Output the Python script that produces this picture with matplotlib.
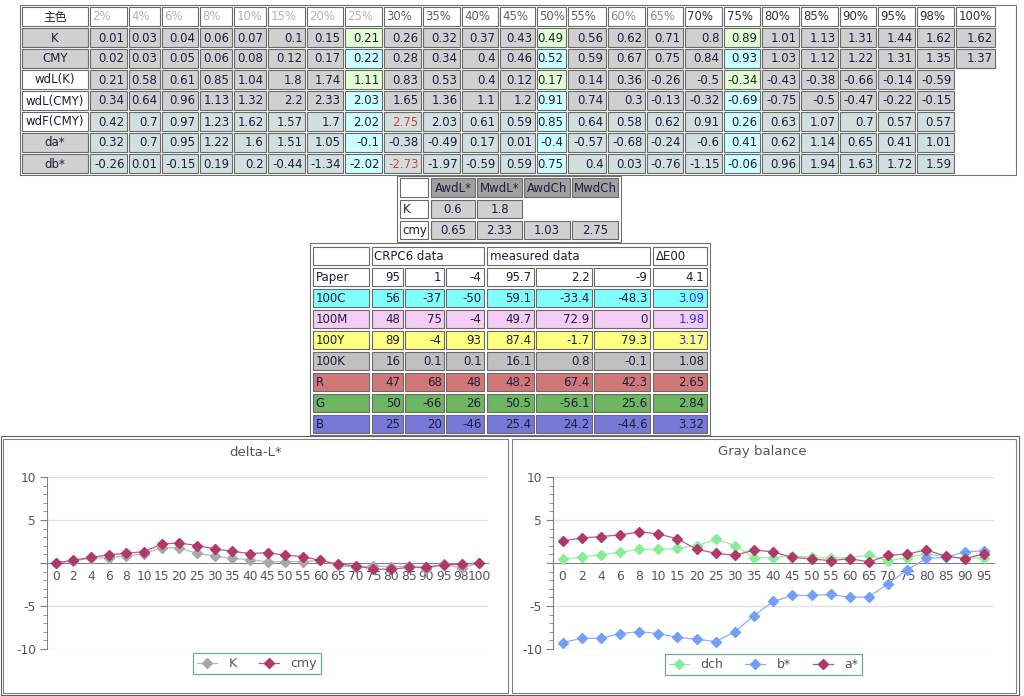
import numpy as np
import matplotlib
matplotlib.use("Agg")
import matplotlib.pyplot as plt
from matplotlib.patches import Rectangle
from matplotlib.lines import Line2D
from matplotlib.ticker import MultipleLocator

plt.rcParams['font.family'] = ['DejaVu Sans', 'Noto Sans CJK SC']

# ---------------------------------------------------------------------------
# DATA
# ---------------------------------------------------------------------------
pct_labels = ['2%', '4%', '6%', '8%', '10%', '15%', '20%', '25%', '30%', '35%', '40%', '45%',
              '50%', '55%', '60%', '65%', '70%', '75%', '80%', '85%', '90%', '95%', '98%', '100%']
row_names = ['K', 'CMY', 'wdL(K)', 'wdL(CMY)', 'wdF(CMY)', 'da*', 'db*']

k_vals = [0.01, 0.03, 0.04, 0.06, 0.07, 0.1, 0.15, 0.21, 0.26, 0.32, 0.37, 0.43,
          0.49, 0.56, 0.62, 0.71, 0.8, 0.89, 1.01, 1.13, 1.31, 1.44, 1.62, 1.62]
cmy_vals = [0.02, 0.03, 0.05, 0.06, 0.08, 0.12, 0.17, 0.22, 0.28, 0.34, 0.4, 0.46,
            0.52, 0.59, 0.67, 0.75, 0.84, 0.93, 1.03, 1.12, 1.22, 1.31, 1.35, 1.37]
wdl_k = [0.21, 0.58, 0.61, 0.85, 1.04, 1.8, 1.74, 1.11, 0.83, 0.53, 0.4, 0.12,
         0.17, 0.14, 0.36, -0.26, -0.5, -0.34, -0.43, -0.38, -0.66, -0.14, -0.59]
wdl_cmy = [0.34, 0.64, 0.96, 1.13, 1.32, 2.2, 2.33, 2.03, 1.65, 1.36, 1.1, 1.2,
           0.91, 0.74, 0.3, -0.13, -0.32, -0.69, -0.75, -0.5, -0.47, -0.22, -0.15]
wdf_cmy = [0.42, 0.7, 0.97, 1.23, 1.62, 1.57, 1.7, 2.02, 2.75, 2.03, 0.61, 0.59,
           0.85, 0.64, 0.58, 0.62, 0.91, 0.26, 0.63, 1.07, 0.7, 0.57, 0.57]
da_vals = [0.32, 0.7, 0.95, 1.22, 1.6, 1.51, 1.05, -0.1, -0.38, -0.49, 0.17, 0.01,
           -0.4, -0.57, -0.68, -0.24, -0.6, 0.41, 0.62, 1.14, 0.65, 0.41, 1.01]
db_vals = [-0.26, 0.01, -0.15, 0.19, 0.2, -0.44, -1.34, -2.02, -2.73, -1.97, -0.59, 0.59,
           0.75, 0.4, 0.03, -0.76, -1.15, -0.06, 0.96, 1.94, 1.63, 1.72, 1.59]

sum_cols = ['AwdL*', 'MwdL*', 'AwdCh', 'MwdCh']
sum_rows = ['K', 'cmy']
k_summary = [0.6, 1.8]
cmy_summary = [0.65, 2.33, 1.03, 2.75]

patch_names = ['Paper', '100C', '100M', '100Y', '100K', 'R', 'G', 'B']
crpc6_L = [95, 56, 48, 89, 16, 47, 50, 25]
crpc6_a = [1, -37, 75, -4, 0.1, 68, -66, 20]
crpc6_b = [-4, -50, -4, 93, 0.1, 48, 26, -46]
meas_L = [95.7, 59.1, 49.7, 87.4, 16.1, 48.2, 50.5, 25.4]
meas_a = [2.2, -33.4, 72.9, -1.7, 0.8, 67.4, -56.1, 24.2]
meas_b = [-9, -48.3, 0, 79.3, -0.1, 42.3, 25.6, -44.6]
delta_e = [4.1, 3.09, 1.98, 3.17, 1.08, 2.65, 2.84, 3.32]

dl_ticks = ['0', '2', '4', '6', '8', '10', '15', '20', '25', '30', '35', '40', '45',
            '50', '55', '60', '65', '70', '75', '80', '85', '90', '95', '98', '100']
dl_k = [0, 0.21, 0.58, 0.61, 0.85, 1.04, 1.8, 1.74, 1.11, 0.83, 0.53, 0.4, 0.12,
        0.17, 0.14, 0.36, -0.26, -0.5, -0.34, -0.43, -0.38, -0.66, -0.14, -0.59, 0]
dl_cmy = [0, 0.34, 0.64, 0.96, 1.13, 1.32, 2.2, 2.33, 2.03, 1.65, 1.36, 1.1, 1.2,
          0.91, 0.74, 0.3, -0.13, -0.32, -0.69, -0.75, -0.5, -0.47, -0.22, -0.15, 0]

gb_ticks = ['0', '2', '4', '6', '8', '10', '15', '20', '25', '30', '35', '40',
            '45', '50', '55', '60', '65', '70', '75', '80', '85', '90', '95']
gb_dch = [0.42, 0.7, 0.97, 1.23, 1.62, 1.57, 1.7, 2.02, 2.75, 2.03, 0.61, 0.59,
          0.85, 0.64, 0.58, 0.62, 0.91, 0.26, 0.63, 1.07, 0.7, 0.57, 0.57]
gb_b = [-9.26, -8.75, -8.75, -8.21, -7.98, -8.21, -8.64, -8.87, -9.14, -7.98, -6.11, -4.47,
        -3.77, -3.77, -3.66, -4.0, -3.93, -2.41, -0.78, 0.54, 0.66, 1.28, 1.44]
gb_a = [2.57, 2.92, 3.07, 3.27, 3.62, 3.39, 2.8, 1.6, 1.13, 0.89, 1.52, 1.28,
        0.66, 0.47, 0.27, 0.51, 0.12, 0.89, 1.05, 1.52, 0.78, 0.51, 1.05]

# ---------------------------------------------------------------------------
# STYLE
# ---------------------------------------------------------------------------
W, H = 1024, 696
BORDER = '#6a6a6a'
TXT = '#1e1e3c'
GRAY = '#d0d0d0'
BLUEGRAY = '#d3dfdf'
LGREEN = '#e2ffd2'
LCYAN = '#ccffff'
FS = 8.5
TICK_FS = 8.8


def fmt(v):
    return f"{v:g}"


def cell(ax, x0, y0, x1, y1, fc, text='', ha='right', color=TXT, ec=BORDER):
    ax.add_patch(Rectangle((x0, y0), x1 - x0, y1 - y0, fc=fc, ec=ec, lw=0.8))
    if text == '':
        return
    if ha == 'left':
        tx = x0 + 2.5
    elif ha == 'right':
        tx = x1 - 2.5
    else:
        tx = (x0 + x1) / 2
    ax.text(tx, (y0 + y1) / 2 + 0.5, text, ha=ha, va='center', fontsize=FS, color=color)


def frame(ax, x0, y0, x1, y1, ec='#707070'):
    ax.add_patch(Rectangle((x0, y0), x1 - x0, y1 - y0, fc='none', ec=ec, lw=0.8))


def draw_main_table(ax):
    frame(ax, 20, 5, 1016, 175)
    starts = [22, 90, 129, 162, 200, 234, 268, 307, 345, 384, 423, 462, 500,
              537, 568, 608, 647, 685, 724, 762, 801, 840, 878, 917, 956]
    ends = [s - 2 for s in starts[1:]] + [995]
    tops = [7, 28, 49, 70, 91, 112, 133, 154]
    rh = 19
    hdr_colors = ['#b4b4b4'] * 8 + ['#606060'] * 6 + ['#8c8c8c'] * 2 + ['#303030'] * 8
    # header
    cell(ax, starts[0], tops[0], ends[0], tops[0] + rh, 'white', '主色', ha='center')
    for j, lab in enumerate(pct_labels):
        cell(ax, starts[j + 1], tops[0], ends[j + 1], tops[0] + rh, 'white', lab,
             ha='left', color=hdr_colors[j])
    rows = [k_vals, cmy_vals, wdl_k, wdl_cmy, wdf_cmy, da_vals, db_vals]
    label_bg = [GRAY, GRAY, 'white', 'white', 'white', GRAY, GRAY]
    base_bg = [GRAY, GRAY, GRAY, GRAY, BLUEGRAY, BLUEGRAY, BLUEGRAY]
    hi_bg = [LGREEN, LCYAN, LGREEN, LCYAN, LCYAN, LCYAN, LCYAN]
    for i, vals in enumerate(rows):
        y0 = tops[i + 1]
        cell(ax, starts[0], y0, ends[0], y0 + rh, label_bg[i], row_names[i], ha='center')
        vmax = max(abs(v) for v in vals)
        for j, v in enumerate(vals):
            fc = hi_bg[i] if pct_labels[j] in ('25%', '50%', '75%') else base_bg[i]
            col = TXT
            if i >= 4 and abs(v) == vmax and i != 5:
                col = '#e03c3c'
            cell(ax, starts[j + 1], y0, ends[j + 1], y0 + rh, fc, fmt(v), color=col)


def draw_summary_table(ax):
    frame(ax, 397, 176, 621, 242)
    xs = [(400, 428), (431, 475), (477, 522), (524, 570), (572, 618)]
    ys = [(178, 197), (200, 218), (221, 239)]
    cell(ax, xs[0][0], ys[0][0], xs[0][1], ys[0][1], 'white')
    for j, lab in enumerate(sum_cols):
        cell(ax, xs[j + 1][0], ys[0][0], xs[j + 1][1], ys[0][1], '#a0a0a0', lab, ha='center')
    for i, (name, vals) in enumerate(zip(sum_rows, [k_summary, cmy_summary])):
        y0, y1 = ys[i + 1]
        cell(ax, xs[0][0], y0, xs[0][1], y1, 'white', name, ha='left')
        for j, v in enumerate(vals):
            cell(ax, xs[j + 1][0], y0, xs[j + 1][1], y1, GRAY, fmt(v), ha='center')


def draw_patch_table(ax):
    frame(ax, 310, 243, 710, 435)
    xs = [(313, 369), (372, 403), (405, 444), (446, 484), (487, 534), (536, 592), (594, 650), (653, 707)]
    top = 247
    rh = 18
    pitch = 21
    cell(ax, xs[0][0], top, xs[0][1], top + rh, 'white')
    cell(ax, xs[1][0], top, xs[3][1], top + rh, 'white', 'CRPC6 data', ha='left')
    cell(ax, xs[4][0], top, xs[6][1], top + rh, 'white', 'measured data', ha='left')
    cell(ax, xs[7][0], top, xs[7][1], top + rh, 'white', '\u0394E00', ha='left')
    row_bg = ['white', '#80ffff', '#f5ccf5', '#ffff80', '#c0c0c0', '#d07878', '#6db55f', '#7878d8']
    for i, name in enumerate(patch_names):
        y0 = top + pitch * (i + 1)
        vals = [crpc6_L[i], crpc6_a[i], crpc6_b[i], meas_L[i], meas_a[i], meas_b[i], delta_e[i]]
        cell(ax, xs[0][0], y0, xs[0][1], y0 + rh, row_bg[i], name, ha='left')
        for j, v in enumerate(vals):
            col = TXT
            if j == 6 and name in ('100C', '100M', '100Y'):
                col = '#2e2eff'
            cell(ax, xs[j + 1][0], y0, xs[j + 1][1], y0 + rh, row_bg[i], fmt(v), color=col)


def setup_chart(fig, px0, px1, py_top, py_bot, ticks):
    ax = fig.add_axes([px0 / W, 1 - py_bot / H, (px1 - px0) / W, (py_bot - py_top) / H])
    ax.set_facecolor('none')
    ax.set_xlim(-0.5, len(ticks) - 0.5)
    ax.set_ylim(-10, 10)
    for s in ['top', 'right']:
        ax.spines[s].set_visible(False)
    ax.spines['bottom'].set_position(('data', 0))
    ax.spines['bottom'].set_color('#808080')
    ax.spines['left'].set_color('#808080')
    for yv in [-10, -5, 5, 10]:
        ax.axhline(yv, color='#e0e0e0', lw=1, zorder=0)
    ax.set_xticks(np.arange(len(ticks)))
    ax.set_xticklabels(ticks)
    ax.tick_params(axis='x', length=0, pad=5, labelsize=TICK_FS, labelcolor='#555555')
    ax.set_yticks([-10, -5, 0, 5, 10])
    ax.set_yticklabels(['-10', '-5', '', '5', '10'])
    ax.yaxis.set_minor_locator(MultipleLocator(1))
    ax.tick_params(axis='y', which='major', length=5, color='#808080', labelsize=TICK_FS,
                   labelcolor='#555555', pad=3)
    ax.tick_params(axis='y', which='minor', length=3, color='#808080')
    return ax


def series(ax, vals, color, line_color, z):
    x = np.arange(len(vals))
    ax.plot(x, vals, color=line_color, lw=0.9, zorder=z)
    ax.plot(x, vals, ls='none', marker='D', ms=5.6, color=color, mec=color, zorder=z + 0.5,
            clip_on=False)
    return Line2D([], [], color=line_color, lw=0.9, marker='D', ms=5.6, mfc=color, mec=color)


def legend(fig, handles, labels, cx, cy):
    leg = fig.legend(handles, labels, loc='center', bbox_to_anchor=(cx / W, 1 - cy / H),
                     ncol=len(handles), fontsize=9, frameon=True, fancybox=False,
                     handlelength=1.6, columnspacing=1.8, borderpad=0.3, handletextpad=0.9,
                     labelcolor='#555555')
    leg.get_frame().set_edgecolor('#4a9a80')
    leg.get_frame().set_linewidth(0.9)


def main():
    fig = plt.figure(figsize=(W / 100, H / 100), dpi=100, facecolor='white')
    bg = fig.add_axes([0, 0, 1, 1])
    bg.set_xlim(0, W)
    bg.set_ylim(H, 0)
    bg.axis('off')

    draw_main_table(bg)
    draw_summary_table(bg)
    draw_patch_table(bg)

    # chart panels
    frame(bg, 1, 436, 1019, 695, ec='#606060')
    frame(bg, 3, 438.5, 508, 693, ec='#808080')
    frame(bg, 512, 438.5, 1016, 693, ec='#808080')

    bg.text(256, 452, 'delta-L*', ha='center', va='center', fontsize=9.5, color='#555555')
    bg.text(762, 452, 'Gray balance', ha='center', va='center', fontsize=9.5, color='#555555')

    ax1 = setup_chart(fig, 47, 488, 477, 649, dl_ticks)
    h_k = series(ax1, dl_k, '#a8a8a8', '#b8b8b8', 3)
    h_cmy = series(ax1, dl_cmy, '#b0386a', '#c0587e', 4)
    legend(fig, [h_k, h_cmy], ['K', 'cmy'], 257, 663.5)

    ax2 = setup_chart(fig, 553, 993.5, 477, 649, gb_ticks)
    h_dch = series(ax2, gb_dch, '#86ee96', '#9aeaa6', 3)
    h_b = series(ax2, gb_b, '#72a0f6', '#88b0f4', 4)
    h_a = series(ax2, gb_a, '#b0386a', '#c0587e', 5)
    legend(fig, [h_dch, h_b, h_a], ['dch', 'b*', 'a*'], 763.5, 664.5)

    fig.savefig('out.png', dpi=100, facecolor='white')
    plt.close(fig)


if __name__ == '__main__':
    main()
